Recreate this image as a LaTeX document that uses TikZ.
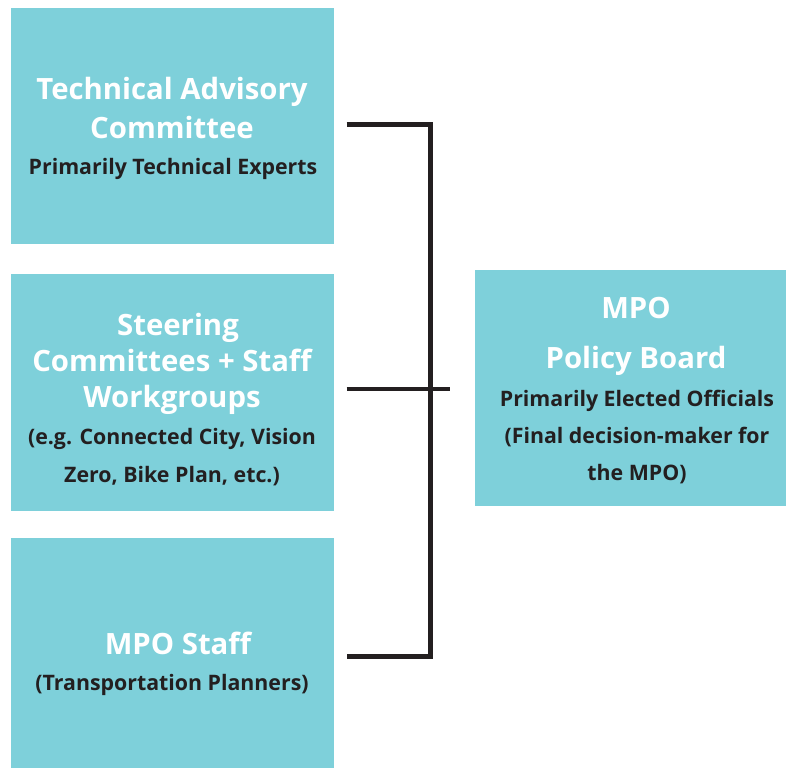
\documentclass[tikz,border=0pt]{standalone}
\usepackage{fontspec}
\setmainfont{Open Sans}[BoldFont={* Bold}]
\usetikzlibrary{calc}

\definecolor{boxteal}{HTML}{7ED0DA}
\definecolor{inkdark}{HTML}{231F20}

\tikzset{
  panel/.style={fill=boxteal, draw=none},
  headtext/.style={text=white, font=\bfseries\fontsize{22}{29}\selectfont, align=center, inner sep=0pt},
  subtext/.style={text=inkdark, font=\bfseries\fontsize{16}{28}\selectfont, align=center, inner sep=0pt},
  bracket/.style={draw=inkdark, line width=3.4pt}
}

\begin{document}
\begin{tikzpicture}[x=0.75pt, y=-0.75pt]
  \useasboundingbox (0,0) rectangle (786,768);

  % The four coloured panels
  \node[panel, minimum width=242.25pt, minimum height=177pt, anchor=north west] (tac) at (11,8) {};
  \node[panel, minimum width=242.25pt, minimum height=177.75pt, anchor=north west] (steer) at (11,274) {};
  \node[panel, minimum width=242.25pt, minimum height=172.5pt, anchor=north west] (staff) at (11,538) {};
  \node[panel, minimum width=233.25pt, minimum height=177pt, anchor=north west] (board) at (475,270) {};

  % Texts of the panels
  \node[headtext] (tachead) at (172,108) {Technical Advisory\\Committee};
  \node[subtext] (tacsub) at (173,169) {Primarily Technical Experts};

  \node[headtext, font=\bfseries\fontsize{22}{27}\selectfont] (steerhead) at (172,364) {\hspace*{9pt}Steering\\Committees + Staff\\Workgroups};
  \node[subtext] (steersub) at (172,457) {(e.g. Connected City, Vision\\Zero, Bike Plan, etc.)};

  \node[headtext] (staffhead) at (178,643) {MPO Staff};
  \node[subtext] (staffsub) at (172,685) {(Transportation Planners)};

  \node[headtext, font=\bfseries\fontsize{22}{37.5}\selectfont] (boardhead) at (636,336) {MPO\\Policy Board};
  \node[subtext] (boardsub) at (637,437) {Primarily Elected Officials\\(Final decision-maker for\\the MPO)};

  % Bracket joining the three panels on the left
  \coordinate (j1) at ($(tac.east)+(12,-2)$);
  \coordinate (j2) at ($(steer.east)+(12,-4)$);
  \coordinate (j3) at ($(staff.east)+(12,3)$);
  \coordinate (jr) at ($(board.west)+(-25,0)$);
  \draw[bracket] (j1) -| ($(j1)+(84,0)$) |- (j3);
  \draw[bracket] (j2) -- (j2 -| jr);
\end{tikzpicture}
\end{document}
